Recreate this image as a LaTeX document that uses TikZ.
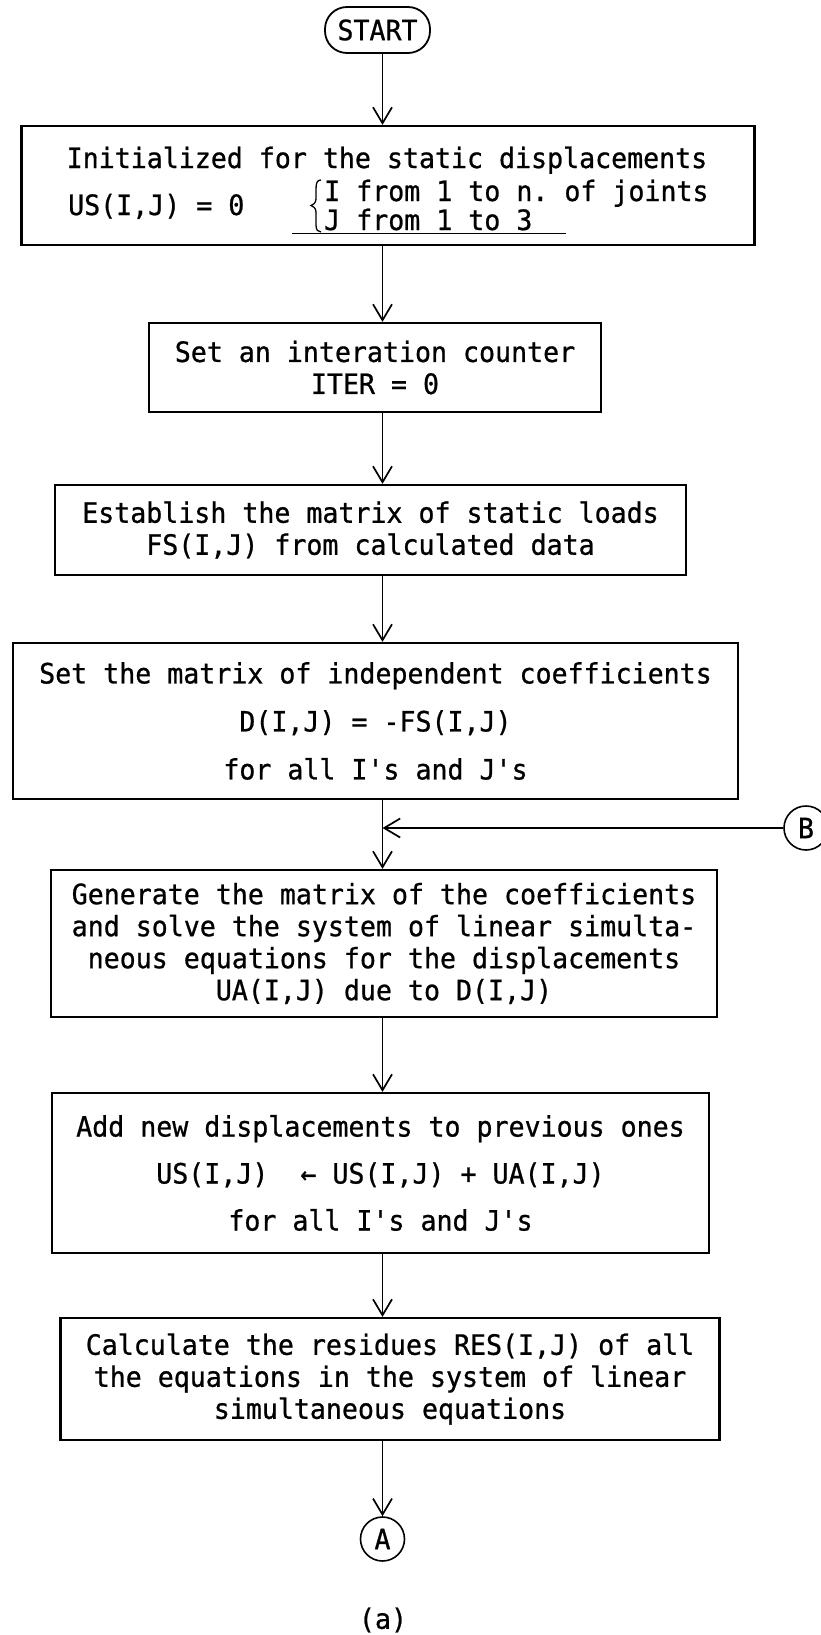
\documentclass[tikz,border=0pt]{standalone}
\usepackage{fontspec}
\setmonofont[FakeStretch=0.95,FakeBold=0.8]{DejaVu Sans Mono}
\usetikzlibrary{arrows.meta}

\begin{document}
\begin{tikzpicture}[x=1pt,y=-1pt,
  every node/.style={font=\ttfamily\fontsize{28}{32}\selectfont, inner sep=0pt},
  box/.style={draw, line width=2.2pt, align=center},
  term/.style={draw, line width=1.8pt, rounded corners=22pt},
  conn/.style={draw, circle, line width=1.6pt, minimum size=44pt},
  arr/.style={line width=1.7pt, -{Straight Barb[length=16pt, width=19pt, line width=1.7pt]}},
  thin/.style={line width=1.3pt}]

\useasboundingbox (0,0) rectangle (820,1635);
\fill[white] (0,0) rectangle (820,1635);

% terminal and connectors
\node[term, minimum width=105pt, minimum height=46pt] (start) at (377.5,30) {START};
\node[conn] (cA) at (382.5,1539) {A};
\node[conn] (cB) at (806,828) {B};

% process boxes
\node[box, minimum width=733pt, minimum height=119pt] (b1) at (388,185.5) {};
\node[box, minimum width=452pt, minimum height=89pt] (b2) at (375,367.5)
  {Set an interation counter\\ITER = 0};
\node[box, minimum width=631pt, minimum height=90pt] (b3) at (370.5,530)
  {Establish the matrix of static loads\\FS(I,J) from calculated data};
\node[box, minimum width=725pt, minimum height=156pt] (b4) at (375.5,721)
  {Set the matrix of independent coefficients\\[16pt]D(I,J) = -FS(I,J)\\[16pt]for all I's and J's};
\node[box, minimum width=666pt, minimum height=147pt] (b5) at (384,943.5)
  {Generate the matrix of the coefficients\\and solve the system of linear simulta-\\neous equations for the displacements\\UA(I,J) due to D(I,J)};
\node[box, minimum width=657pt, minimum height=160pt] (b6) at (380.5,1173)
  {Add new displacements to previous ones\\[15pt]US(I,J)~~← US(I,J) + UA(I,J)\\[15pt]for all I's and J's};
\node[box, minimum width=659pt, minimum height=122pt] (b7) at (390,1379)
  {Calculate the residues RES(I,J) of all\\the equations in the system of linear\\simultaneous equations};

% contents of the first box
\node[anchor=base] (t1) at (387,168) {Initialized for the static displacements};
\node[anchor=base west] (t2) at (68,215) {US(I,J) = 0};
\node[anchor=base west] (t3) at (324,201) {I from 1 to n. of joints};
\node[anchor=base west] (t4) at (324,230) {J from 1 to 3};
\draw[thin] (321,180) .. controls (317,180) and (316,183) .. (316,189)
  -- (316,199) .. controls (316,203) and (313,205) .. (311,205.5)
  .. controls (313,206) and (316,208) .. (316,212)
  -- (316,225) .. controls (316,230) and (318,232) .. (321,232);
\draw[thin] (292,233.5) -- (566,233.5);

% caption
\node (cap) at (383,1620) {(a)};

% flow lines
\draw[arr] (start.south -| cA) -- (b1.north -| cA);
\draw[arr] (b1.south -| cA) -- (b2.north -| cA);
\draw[arr] (b2.south -| cA) -- (b3.north -| cA);
\draw[arr] (b3.south -| cA) -- (b4.north -| cA);
\draw[arr] (b4.south -| cA) -- (b5.north -| cA);
\draw[arr] (cB.west) -- (cB.west -| cA);
\draw[arr] (b5.south -| cA) -- (b6.north -| cA);
\draw[arr] (b6.south -| cA) -- (b7.north -| cA);
\draw[arr] (b7.south -| cA) -- (cA.north);
\end{tikzpicture}
\end{document}
